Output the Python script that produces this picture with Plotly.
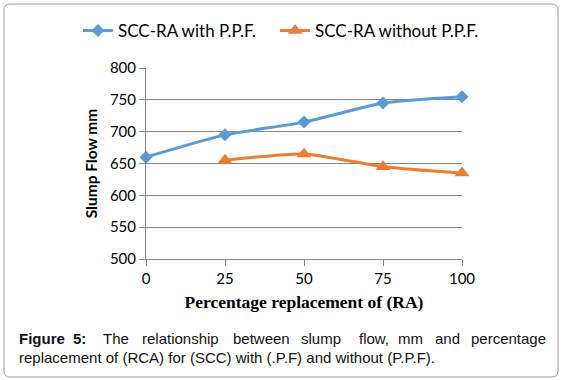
import plotly.graph_objects as go

x_vals = [0, 25, 50, 75, 100]
with_ppf = [660, 695, 715, 745, 755]
without_ppf = [None, 655, 665, 645, 635]
y_ticks = [500, 550, 600, 650, 700, 750, 800]
series_names = ["SCC-RA with P.P.F.", "SCC-RA without P.P.F."]

W, H = 565, 380
L, R, T, B = 146, 103, 68, 121
PW, PH = W - L - R, H - T - B

def px(x):
    return (x - L) / PW

def py(y):
    return (H - B - y) / PH

fig = go.Figure()
fig.add_trace(go.Scatter(
    x=x_vals, y=with_ppf, name=series_names[0], mode="lines+markers",
    line=dict(color="#5B9BD5", width=3, shape="spline", smoothing=0.6),
    marker=dict(symbol="diamond", size=10, color="#5B9BD5"),
    cliponaxis=False, legend="legend"))
fig.add_trace(go.Scatter(
    x=x_vals, y=without_ppf, name=series_names[1], mode="lines+markers",
    line=dict(color="#ED7D31", width=3, shape="spline", smoothing=0.6),
    marker=dict(symbol="triangle-up", size=13, color="#ED7D31"),
    cliponaxis=False, connectgaps=False, legend="legend2"))

# rounded border
x0, x1, y0, y1 = px(4), px(558), py(377), py(4)
rx, ry = 6 / PW, 6 / PH
path = (f"M {x0+rx},{y1} L {x1-rx},{y1} Q {x1},{y1} {x1},{y1-ry} "
        f"L {x1},{y0+ry} Q {x1},{y0} {x1-rx},{y0} L {x0+rx},{y0} "
        f"Q {x0},{y0} {x0},{y0+ry} L {x0},{y1-ry} Q {x0},{y1} {x0+rx},{y1} Z")
fig.add_shape(type="path", path=path, xref="paper", yref="paper",
              line=dict(color="#9a9a9a", width=1), layer="below")

# caption, justified first line
cap_font = dict(family="Liberation Sans, Arial", size=15, color="#111111")
words1 = [("<b>Figure</b>", 17), ("<b>5:</b>", 71), ("The", 101), ("relationship", 140),
          ("between", 231), ("slump", 299), ("flow,", 357), ("mm", 396),
          ("and", 433), ("percentage", 469)]
for w, xp in words1:
    fig.add_annotation(text=w, x=px(xp), y=py(338), xref="paper", yref="paper",
                       xanchor="left", yanchor="middle", showarrow=False, font=cap_font)
fig.add_annotation(text="replacement of (RCA) for (SCC) with (.P.F) and without (P.P.F).",
                   x=px(17), y=py(357), xref="paper", yref="paper",
                   xanchor="left", yanchor="middle", showarrow=False, font=cap_font)

leg_font = dict(family="Lato, Liberation Sans", size=17, color="#000000")
fig.update_layout(
    width=W, height=H,
    margin=dict(l=L, r=R, t=T, b=B, autoexpand=False),
    paper_bgcolor="white", plot_bgcolor="white",
    font=dict(family="Lato, Liberation Sans", color="#000000"),
    showlegend=True,
    legend=dict(x=px(78), y=py(31), xanchor="left", yanchor="middle",
                font=leg_font, bgcolor="rgba(0,0,0,0)", itemwidth=30),
    legend2=dict(x=px(275), y=py(31), xanchor="left", yanchor="middle",
                 font=leg_font, bgcolor="rgba(0,0,0,0)", itemwidth=30),
    xaxis=dict(range=[0, 100], tickvals=x_vals, ticks="outside", ticklen=6,
               tickcolor="#868686", showline=True, linecolor="#868686", linewidth=1,
               showgrid=False, zeroline=False, tickfont=dict(size=15),
               title=dict(text="<b>Percentage replacement of (RA)</b>", standoff=9,
                          font=dict(family="Liberation Serif, Times New Roman", size=17.5))),
    yaxis=dict(range=[500, 800], tickvals=y_ticks, ticks="outside", ticklen=6,
               tickcolor="#868686", showline=True, linecolor="#868686", linewidth=1,
               showgrid=True, gridcolor="#868686", gridwidth=1, zeroline=False,
               tickfont=dict(size=15),
               title=dict(text="<b>Slump Flow mm</b>", standoff=8,
                          font=dict(family="Lato, Liberation Sans", size=15.5))),
)

fig.write_html("out.html", config={"displayModeBar": False},
               post_script="document.body.style.margin='0';document.body.style.padding='0';")
